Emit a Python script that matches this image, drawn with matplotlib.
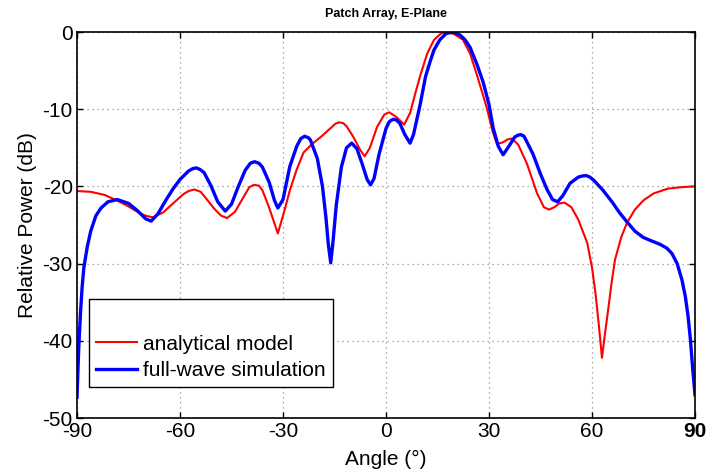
import matplotlib
matplotlib.use("Agg")
import matplotlib.pyplot as plt

plt.rcParams['font.family'] = ['Liberation Sans', 'DejaVu Sans']

# Analytical model (red)
ana_angle = [-90, -86, -82, -78, -75, -72, -70, -68, -65, -62, -59, -57.5, -55.8, -54, -52.5,
             -50, -48, -46.3, -44, -41, -39.8, -38.5, -37, -36, -34, -31.5, -29.5, -28, -26, -24,
             -21.5, -19, -16, -14.8, -13.7, -12.5, -11.5, -9.5, -7.5, -6.2, -4.7, -2.6, -0.5,
             0.9, 3, 5.3, 7, 8.5, 10, 12, 14, 16, 17.8, 20, 22.4, 24.5, 26.5, 28, 29.4, 31, 32.3,
             34, 35.5, 36.7, 38.5, 41, 44, 46, 47.5, 49, 50.5, 52, 54, 56, 58.6, 60, 61, 62,
             62.9, 63.8, 64.7, 65.7, 66.7, 68.5, 70.2, 72.5, 75, 78, 82, 86, 90]
ana_db = [-20.6, -20.7, -21.1, -21.9, -22.6, -23.4, -23.8, -24.0, -23.4, -22.2, -21.0, -20.6,
          -20.4, -20.7, -21.5, -22.9, -23.8, -24.1, -23.3, -21.0, -20.1, -19.8, -19.9, -20.5,
          -22.8, -26.1, -23.0, -20.5, -17.8, -15.6, -14.5, -13.6, -12.4, -11.9, -11.7, -11.8,
          -12.2, -13.6, -15.3, -16.1, -15.0, -12.3, -10.7, -10.4, -11.0, -12.0, -10.5, -8.0,
          -5.6, -2.8, -1.0, -0.2, 0.0, -0.3, -1.0, -2.8, -5.6, -7.8, -9.9, -12.8, -14.5, -14.3,
          -13.9, -13.8, -14.6, -17.0, -20.9, -22.7, -23.0, -22.7, -22.2, -22.1, -22.7, -24.3,
          -27.3, -30.5, -33.8, -38.0, -42.2, -39.0, -36.0, -32.5, -29.5, -26.6, -24.7, -23.0,
          -21.8, -20.9, -20.3, -20.1, -20.0]

# Full-wave simulation (blue)
fw_angle = [-90, -89.5, -89, -88.5, -88, -87, -86, -84.5, -83, -81, -78.3, -75, -72.5, -70,
            -68.4, -66.5, -64, -62, -60, -57.5, -56.3, -55.3, -54.2, -53, -51, -49, -46.8, -45,
            -43, -41, -39.5, -38.3, -37, -36, -34, -32.5, -31.5, -30, -28, -26, -24.8, -23.7,
            -22.6, -22, -20, -18.5, -17.5, -16.8, -16.1, -15.4, -14.5, -13, -11.5, -10, -8.5, -7,
            -5.5, -4.5, -3.5, -2, 0, 1, 2.1, 3, 4, 5.5, 7, 8, 9.9, 11.5, 12.8, 14, 15.7, 17.5,
            19.5, 21.6, 23, 24.5, 26.5, 28.3, 30, 31.2, 32.7, 34.1, 35.5, 37.5, 38.5, 39.3, 40.2,
            41, 42.8, 45, 46.9, 48.5, 50, 51.5, 53.6, 56, 57.2, 58.3, 59.4, 60.5, 63.2, 66, 68,
            70.2, 72.5, 74.9, 77, 79.8, 81.8, 83.3, 84.8, 86.2, 87.2, 88, 88.7, 89.3, 90]
fw_db = [-47.3, -41.0, -36.5, -33.0, -30.5, -27.8, -25.8, -23.8, -22.8, -22.0, -21.7, -22.2,
         -23.1, -24.2, -24.5, -23.6, -21.7, -20.3, -19.1, -18.0, -17.7, -17.6, -17.8, -18.2,
         -19.9, -22.0, -23.2, -22.3, -20.0, -17.9, -17.0, -16.8, -17.0, -17.5, -19.5, -21.8,
         -22.8, -21.7, -17.4, -14.8, -13.8, -13.5, -13.7, -14.0, -16.4, -20.0, -24.0, -27.5,
         -29.9, -27.0, -22.5, -17.5, -15.0, -14.4, -15.1, -17.0, -19.1, -19.8, -19.0, -15.8,
         -12.5, -11.6, -11.3, -11.4, -11.8, -13.3, -14.4, -13.3, -9.5, -5.8, -3.9, -2.3, -1.0,
         -0.2, 0.0, -0.4, -1.0, -2.0, -4.2, -6.5, -9.4, -12.4, -14.8, -15.9, -15.0, -13.6,
         -13.35, -13.3, -13.5, -14.2, -15.8, -18.4, -20.4, -21.7, -22.0, -21.2, -19.6, -18.8,
         -18.65, -18.6, -18.8, -19.2, -20.5, -22.1, -23.4, -24.6, -25.8, -26.6, -27.0, -27.5,
         -28.0, -28.7, -30.0, -32.1, -34.3, -36.9, -40.0, -43.5, -47.0]

x_ticks = [-90, -60, -30, 0, 30, 60, 90]
y_ticks = [-50, -40, -30, -20, -10, 0]

fig = plt.figure(figsize=(7.08, 4.76), dpi=100)
ax = fig.add_axes([77/708, 1-418/476, 618/708, 386/476])

ax.plot(ana_angle, ana_db, color='#ff0000', lw=1.5, label='analytical model',
        solid_joinstyle='round')
ax.plot(fw_angle, fw_db, color='#0000ff', lw=2.4, label='full-wave simulation',
        solid_joinstyle='round')

ax.set_xlim(-90, 90)
ax.set_ylim(-50, 0)
ax.set_xticks(x_ticks)
ax.set_yticks(y_ticks)
ax.set_xticklabels([str(t) for t in x_ticks])
ax.set_yticklabels([str(t) for t in y_ticks])
ax.get_xticklabels()[-1].set_fontweight('bold')

ax.grid(True, color='#909090', linestyle=(0, (1, 3)), lw=0.9)
ax.tick_params(direction='in', length=4.5, width=1, top=True, right=True,
               labelsize=15, pad=3, colors='black')
for s in ax.spines.values():
    s.set_linewidth(1.2)

ax.set_xlabel('Angle (°)', fontsize=15, labelpad=6)
ax.set_ylabel('Relative Power (dB)', fontsize=15, labelpad=4)
ax.set_title('Patch Array, E-Plane', fontsize=9, fontweight='bold', pad=11)

leg = ax.legend(loc='lower left', bbox_to_anchor=(0.019, 0.080), borderaxespad=0,
                fontsize=15, title=' ', title_fontsize=16, fancybox=False,
                edgecolor='black', framealpha=1, handlelength=1.95, handletextpad=0.3,
                borderpad=0.35, labelspacing=0.35)
leg.get_frame().set_linewidth(1.0)

fig.savefig('out.png', dpi=100)
